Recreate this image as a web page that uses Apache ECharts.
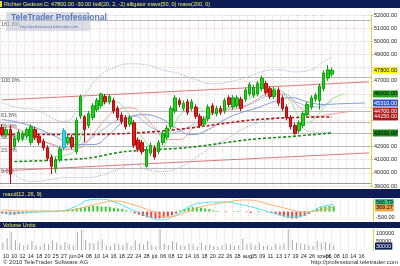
<!DOCTYPE html>
<html><head><meta charset="utf-8">
<script src="https://cdn.jsdelivr.net/npm/echarts@6/dist/echarts.min.js"></script>
<style>html,body{margin:0;padding:0;background:#fff}#c{width:400px;height:266px}</style>
</head><body><div id="c"></div>
<script>
const SLOT_COUNT = 90;
const tickLabels = ["10","10","12","14","18","20","25","27","jún.","04","08","10","14","16","18","22","24","28","júl.","06","08","12","14","16","18","20","22","26","28","aug.","05","09","11","13","17","19","24","26","szept.","06","08","10","14","16"];
const candles = [
[43440,42910,42750,43700],[42900,43290,42700,43500],[43300,39900,39150,43600],[42000,42600,41800,42800],[42500,43100,42300,43300],
[42600,43000,42400,43200],[42800,43300,42600,43450],[42300,43500,42100,43700],[43300,42700,42500,43500],[42800,42300,42100,43000],
[42400,41900,41700,42600],[41900,41100,40900,42100],[41200,40500,39900,41400],[40300,41000,40000,41200],[41000,41800,40800,42000],
[41900,43200,41700,43400],[42300,42700,42100,42900],[42700,42000,41800,42900],[41600,44000,41400,44200],[44300,45800,44100,45950],
[44270,43290,42300,44400],[43600,44500,43400,44700],[44200,45100,44000,45300],[44800,45500,44600,45700],[45100,46000,44900,46100],
[45800,45400,45200,46000],[45400,45800,45200,45950],[45500,44700,44500,45700],[44900,44200,44000,45100],[44400,43900,43700,44600],
[44200,43500,43300,44400],[43700,44200,43500,44400],[43800,42100,41900,44000],[42500,41800,41600,42700],[42300,41600,41400,42500],
[40500,41800,40400,42000],[41500,42100,41300,42300],[41900,41200,41000,42100],[41600,42300,41400,42500],[42300,43000,42100,43200],
[42700,43400,42500,43600],[43500,44900,43300,45100],[44700,45700,44500,45900],[45500,45200,45000,45700],[44900,45300,44700,45500],
[45400,44600,44400,45600],[44900,45400,44700,45600],[45000,44300,44100,45200],[44300,43600,43400,44500],[43700,44100,43500,44300],
[44100,45000,43900,45200],[45100,44600,44400,45300],[44500,44900,44300,45100],[44900,44600,44400,45100],[44700,45500,44500,45700],
[45700,45200,45000,45900],[45000,45700,44800,45900],[45100,45700,44900,45900],[45600,44900,44700,45800],[45600,46300,45400,46500],
[46000,46700,45800,46900],[45900,46500,45700,46700],[46000,46800,45800,47000],[46400,47200,46200,47400],[46800,46100,45900,47000],
[46400,45800,45600,46600],[45800,46300,45600,46500],[46300,45300,45100,46500],[45700,44900,44700,45900],[45000,44200,44000,45200],
[44200,43500,43300,44400],[43600,43000,42900,43800],[43200,43800,43000,44000],[43600,44500,43400,44700],[44400,45200,44200,45400],
[45000,45700,44800,45900],[45600,45900,45400,46100],[45500,46600,44800,46800],[46400,47600,46200,47800],[47200,47830,47000,48200],
[47500,47800,47300,48000]
];
const cyanCandleIndex = 15;
const volumes = [45000,75000,110000,60000,40000,30000,35000,55000,30000,25000,
 40000,35000,60000,45000,30000,50000,35000,30000,110000,125000,
 60000,45000,40000,55000,65000,30000,25000,40000,35000,30000,
 45000,25000,60000,40000,35000,55000,30000,25000,130000,40000,
 30000,55000,45000,30000,25000,40000,35000,20000,45000,30000,
 35000,25000,20000,30000,40000,35000,25000,30000,70000,35000,
 40000,30000,45000,25000,30000,20000,35000,30000,40000,135000,
 60000,45000,40000,35000,30000,25000,55000,45000,50000,40000,30000];
const lips = [[0,43440],[3,42530],[7,42530],[10,42150],[13,41240],[16,41390],[18,41920],[20,43440],[22,44420],[25,45330],[27,45410],[30,44800],[32,43670],[35,42300],[37,41620],[39,41920],[41,43140],[44,44650],[47,44950],[50,44580],[52,44650],[55,44950],[58,45330],[61,45860],[64,46470],[67,46320],[70,45410],[72,44270],[74,43820],[76,44200],[78,44950],[80,45600],[83,46000]];
const teeth = [[0,43670],[4,43290],[8,42680],[12,42150],[16,41770],[19,41920],[22,42910],[25,44050],[28,44800],[31,44950],[34,44420],[37,43440],[40,42530],[43,42530],[46,43290],[49,44200],[52,44650],[55,44800],[58,44950],[61,45410],[64,45940],[67,46020],[70,45560],[73,44800],[76,44270],[79,44420],[85,44700]];
const jaw = [[0,44050],[6,43670],[12,42910],[18,42150],[22,42150],[26,42910],[30,44050],[34,44420],[38,44200],[42,43440],[46,42910],[50,43290],[54,44050],[58,44580],[62,44950],[66,45410],[70,45710],[74,45410],[78,45200],[82,45250],[88,45310]];
const bollUpper = [[0,45330],[4,44950],[8,44800],[12,44200],[15,43890],[18,44650],[21,46320],[24,47450],[27,47980],[31,48290],[35,48210],[39,47830],[43,47530],[47,47080],[51,46770],[55,46920],[59,47230],[63,47680],[67,47830],[71,47680],[75,47830],[78,48440],[80,48820]];
const bollMid = [[0,43000],[4,42800],[8,42600],[12,42200],[16,41900],[20,42300],[24,43200],[28,44000],[32,44300],[36,43500],[40,43000],[44,43300],[48,44000],[52,44600],[56,45000],[60,45200],[64,45800],[68,46000],[72,45300],[76,45000],[80,45500]];
const bollLower = [[0,40640],[4,39650],[8,39350],[12,39500],[16,39650],[20,39650],[24,39800],[28,40260],[32,40640],[35,40260],[39,40110],[43,40410],[47,41170],[51,42000],[55,42680],[59,43440],[63,43890],[67,44200],[71,43670],[75,43140],[78,43060],[80,43140]];
const ma50 = [[0,42910],[10,42910],[20,42910],[30,42990],[40,43210],[50,43590],[60,44000],[70,44200],[80,44250]];
const ma200 = [[3,40860],[20,41090],[30,41620],[45,41920],[60,42530],[70,42760],[80,43030]];
const macdLine = [[0,-111],[4,-111],[9,-32],[14,48],[18,445],[21,923],[24,980],[27,764],[31,207],[35,-350],[38,-668],[42,-270],[45,366],[48,684],[53,764],[57,605],[62,207],[67,-270],[71,-430],[74,-111],[77,366],[80,566.79]];
const signalLine = [[0,127],[7,48],[14,48],[19,286],[24,684],[27,843],[31,605],[36,48],[40,-430],[44,-111],[48,366],[53,684],[59,923],[65,525],[70,127],[72,-32],[76,48],[80,369.27]];
const macdHist = [-150,-200,-250,-250,-200,-150,-100,-50,
 -50,0,50,50,0,-50,50,100,150,200,
 250,300,350,400,450,450,400,400,350,300,250,200,100,50,
 -150,-250,-350,-450,-500,-550,-550,-500,-400,-300,-150,
 100,200,300,350,350,300,250,200,100,
 50,0,-50,0,50,50,0,-50,-100,0,50,0,-50,-100,
 -200,-300,-400,-500,-550,-550,-450,-350,-200,
 100,250,350,400,450,450];
const fibLow = 40370, fibHigh = 47290;
const fibRatios = [1.618, 1, 0.618, 0.5, 0.382, 0.236, 0];
const fibLabels = ['161.8%','100.0%','61.8%','50.0%','38.2%','23.6%','0.0%'];
const supportLevel = 39230;
const channelUpper = [[0,45546],[89,46916]];
const channelLower = [[0,40148],[89,41516]];
const lastPrice = 47800, priceChange = -30;
const hiddenPriceTicks = [48000,46000,45000,44000,43000];

const FONT = 'Liberation Sans';
const slots = Array.from({length: SLOT_COUNT}, (_, i) => String(i));
const last = a => a[a.length-1][1];

function boxLine(value, bg, fg, text, dy) {
  return {
    yAxis: value,
    lineStyle: {color: 'rgba(0,0,0,0)', width: 0},
    label: {show: true, position: 'end', distance: 2, formatter: text || value.toFixed(2), offset: [0, dy || 0],
      backgroundColor: bg, color: fg, fontSize: 5.5, fontFamily: FONT, padding: [1,1,0,1]}
  };
}
function endBox(value, bg, fg, text, dy) {
  return {symbol: 'none', silent: true, animation: false, data: [boxLine(value, bg, fg, text, dy)]};
}

const candleData = candles.map((c, i) => i === cyanCandleIndex
  ? {value: c, itemStyle: {color: '#38d8e8', color0: '#38d8e8', borderColor: '#20a8b8', borderColor0: '#20a8b8'}}
  : c);

const fibMarks = fibRatios.map((r, k) => ({
  yAxis: fibLow + r * (fibHigh - fibLow),
  lineStyle: {color: '#b8b8b8', width: 1, type: 'solid'},
  label: {show: true, position: 'insideStartBottom', distance: 1, formatter: fibLabels[k], fontSize: 5.5, fontFamily: FONT, color: '#555'}
}));

const splitX = {show: true, interval: (i) => i % 2 === 0, lineStyle: {color: '#efd6d6', type: 'dotted', width: 1}};

function xAxisFor(g, showLabels) {
  return {
    type: 'category', gridIndex: g, data: slots, boundaryGap: true,
    axisLine: {show: false}, axisTick: {show: false},
    axisLabel: showLabels ? {
      show: true, interval: 0, align: 'left', margin: 3, fontSize: 5.5, fontFamily: FONT, color: '#222',
      formatter: (v, i) => (i % 2 === 0 && tickLabels[i/2] !== undefined) ? tickLabels[i/2] : ''
    } : {show: false},
    splitLine: splitX
  };
}
const yLine = {show: true, lineStyle: {color: '#d8cf20', type: 'dotted', width: 1}};
const yTick = {show: true, length: 2, lineStyle: {color: '#d8cf20'}};

const lineSeries = (name, data, color, width, type, extra) => Object.assign({
  name, type: 'line', xAxisIndex: 0, yAxisIndex: 0, data, showSymbol: false, smooth: 0.5,
  lineStyle: {color, width, type}, silent: true, z: 3
}, extra || {});

const option = {
  animation: false,
  backgroundColor: '#ffffff',
  grid: [
    {left: 0, right: 27, top: 15, height: 171},
    {left: 0, right: 27, top: 199, height: 22},
    {left: 0, right: 27, top: 229, height: 21}
  ],
  xAxis: [xAxisFor(0, false), xAxisFor(1, false), xAxisFor(2, true)],
  yAxis: [
    {type: 'value', gridIndex: 0, position: 'right', min: 39000, max: 52000, interval: 1000,
      axisLine: yLine, axisTick: yTick,
      axisLabel: {margin: 3, fontSize: 5.5, fontFamily: FONT, color: '#222',
        formatter: v => hiddenPriceTicks.includes(v) ? '' : v.toFixed(2)},
      splitLine: {show: true, lineStyle: {color: '#efd6d6', type: 'dotted'}}},
    {type: 'value', gridIndex: 1, position: 'right', min: -750, max: 1000, interval: 250,
      axisLine: yLine, axisTick: {show: false},
      axisLabel: {margin: 3, fontSize: 5.5, fontFamily: FONT, color: '#222',
        formatter: v => v === -500 ? '-500.00' : ''},
      splitLine: {show: false}},
    {type: 'value', gridIndex: 2, position: 'right', min: 0, max: 130000, interval: 50000,
      axisLine: yLine, axisTick: {show: false},
      axisLabel: {margin: 3, fontSize: 5.5, fontFamily: FONT, color: '#222', showMaxLabel: false,
        formatter: v => (v === 50000 || v === 100000) ? String(v) : ''},
      splitLine: {show: false}}
  ],
  series: [
    lineSeries('bollUpper', bollUpper, '#9fb4dc', 1, 'dotted'),
    lineSeries('bollLower', bollLower, '#9fb4dc', 1, 'dotted'),
    lineSeries('bollMid', bollMid, '#a8b8e0', 1, 'solid'),
    lineSeries('jaw', jaw, '#7d98d8', 1, 'solid', {markLine: endBox(last(jaw), '#2f55c8', '#ffffff')}),
    lineSeries('teeth', teeth, '#ee9a9a', 1, 'solid', {markLine: endBox(last(teeth), '#b42020', '#ffffff')}),
    lineSeries('lips', lips, '#8ee88e', 1, 'solid', {markLine: endBox(last(lips), '#22a022', '#000000')}),
    lineSeries('ma50', ma50, '#b01818', 1.6, [3, 2], {smooth: 0.3, markLine: endBox(last(ma50), '#a81818', '#ffffff')}),
    lineSeries('ma200', ma200, '#1c8a1c', 1.6, [3, 2], {smooth: 0.3, markLine: endBox(last(ma200), '#1c8a1c', '#000000')}),
    {
      name: 'price', type: 'candlestick', xAxisIndex: 0, yAxisIndex: 0, data: candleData, barWidth: 3, z: 4,
      itemStyle: {color: '#1ed21e', color0: '#e01e1e', borderColor: '#12a012', borderColor0: '#a81010', borderWidth: 1},
      markLine: {symbol: 'none', silent: true, animation: false, z: 2,
        data: fibMarks.concat([
          {yAxis: supportLevel, lineStyle: {color: '#9a9a9a', width: 1, type: 'solid'}, label: {show: false}},
          [{coord: channelUpper[0]}, {coord: channelUpper[1], lineStyle: {color: '#dc7878', width: 1, type: 'solid'}, label: {show: false}}],
          [{coord: channelLower[0]}, {coord: channelLower[1], lineStyle: {color: '#dc7878', width: 1, type: 'solid'}, label: {show: false}}],
          boxLine(lastPrice, '#ffff00', '#000000')
        ])}
    },
    {
      name: 'hist', type: 'bar', xAxisIndex: 1, yAxisIndex: 1, data: macdHist, barWidth: 2, silent: true,
      itemStyle: {color: p => p.value >= 0 ? '#3cc83c' : '#e04848'}
    },
    {name: 'macd', type: 'line', xAxisIndex: 1, yAxisIndex: 1, data: macdLine, showSymbol: false, smooth: 0.5,
      lineStyle: {color: '#52e0ea', width: 1}, silent: true, markLine: endBox(last(macdLine), '#3cc88c', '#000000', null, -2)},
    {name: 'signal', type: 'line', xAxisIndex: 1, yAxisIndex: 1, data: signalLine, showSymbol: false, smooth: 0.5,
      lineStyle: {color: '#f2b468', width: 1}, silent: true, markLine: endBox(last(signalLine), '#f0a040', '#000000', null, 1)},
    {name: 'volume', type: 'bar', xAxisIndex: 2, yAxisIndex: 2, data: volumes, barWidth: 1, silent: true,
      itemStyle: {color: '#a8a8a8'},
      markLine: endBox(volumes[volumes.length-1], '#0e1c56', '#ffffff', String(volumes[volumes.length-1]), 1)}
  ],
  graphic: [
    {type: 'rect', shape: {x: 0, y: 0, width: 400, height: 8}, style: {fill: '#0e1c56'}, z: 10},
    {type: 'rect', shape: {x: 0, y: 1, width: 2, height: 6}, style: {fill: '#e6dc20'}, z: 11},
    {type: 'text', x: 4, y: 1.5, z: 11, style: {text: 'Richter Gedeon C: ' + lastPrice.toFixed(2) + ' ' + priceChange.toFixed(2) + ' boll(20, 2, -2) alligator mavs(50, 0) mavs(200, 0)', fill: '#f2ee6a', font: '5.5px "Liberation Sans"', verticalAlign: 'top'}},
    {type: 'rect', shape: {x: 0, y: 189, width: 400, height: 9}, style: {fill: '#0e1c56'}, z: 10},
    {type: 'text', x: 3, y: 191.5, z: 11, style: {text: 'macd(12, 26, 9)', fill: '#f2ee6a', font: '5.5px "Liberation Sans"', verticalAlign: 'top'}},
    {type: 'rect', shape: {x: 0, y: 222, width: 400, height: 6}, style: {fill: '#0e1c56'}, z: 10},
    {type: 'text', x: 3, y: 222.5, z: 11, style: {text: 'Volume Units', fill: '#f2ee6a', font: '5.5px "Liberation Sans"', verticalAlign: 'top'}},
    {type: 'rect', shape: {x: 6, y: 12, width: 84, height: 19}, style: {fill: 'rgba(190,195,205,0.55)'}, z: 9},
    {type: 'text', x: 11, y: 13.5, z: 9, style: {text: 'TeleTrader Professional', fill: '#5a78c0', font: 'bold 8.5px "Liberation Sans"', verticalAlign: 'top'}},
    {type: 'text', x: 20, y: 24.5, z: 9, style: {text: 'http://professional.teletrader.com', fill: '#5a78c0', font: '4px "Liberation Sans"', verticalAlign: 'top'}},
    {type: 'text', x: 3, y: 259, style: {text: '\u00a9 2010 TeleTrader Software AG', fill: '#333', font: '6px "Liberation Sans"', verticalAlign: 'top'}},
    {type: 'text', x: 398, y: 259, style: {text: 'http://professional.teletrader.com', fill: '#333', font: '6px "Liberation Sans"', verticalAlign: 'top', align: 'right'}}
  ]
};
const chart = echarts.init(document.getElementById('c'), null, {renderer: 'canvas'});
chart.setOption(option);
</script></body></html>
